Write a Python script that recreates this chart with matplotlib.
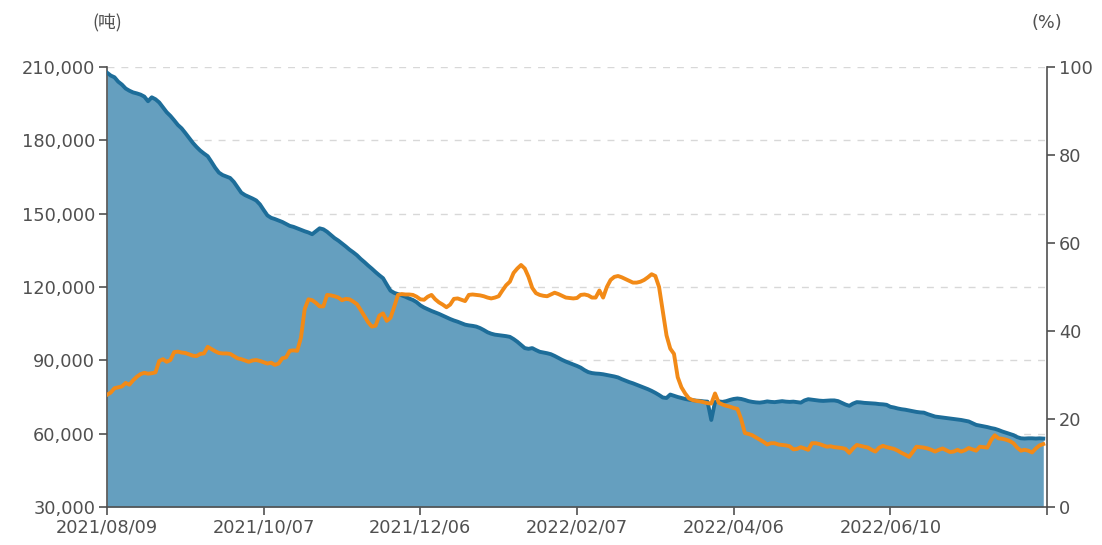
import matplotlib
matplotlib.use("Agg")
import matplotlib.pyplot as plt
import numpy as np

plt.rcParams['font.family'] = ['DejaVu Sans', 'Noto Sans CJK SC']

# 库存(吨), 每个交易日一个点, 单位千吨
stock_k = [
    207.7, 206.5, 205.8, 204.0, 202.8, 201.2, 200.3, 199.6, 199.2, 198.7,
    197.9, 196.0, 197.6, 196.8, 195.5, 193.5, 191.5, 190.0, 188.2, 186.3,
    184.9, 183.0, 181.0, 179.0, 177.3, 175.8, 174.6, 173.5, 171.2, 168.8,
    166.8, 165.8, 165.2, 164.6, 163.0, 160.8, 158.6, 157.6, 156.9, 156.2,
    155.4, 153.8, 151.5, 149.3, 148.3, 147.8, 147.2, 146.6, 145.8, 145.0,
    144.6, 144.0, 143.4, 142.8, 142.3, 141.6, 142.8, 144.0, 143.6, 142.6,
    141.3, 140.0, 139.0, 137.8, 136.6, 135.3, 134.2, 133.0, 131.5, 130.2,
    128.8, 127.5, 126.1, 124.8, 123.6, 121.0, 118.5, 117.6, 117.1, 116.6,
    116.0, 115.3, 114.7, 113.8, 112.5, 111.6, 110.9, 110.2, 109.6, 109.0,
    108.3, 107.6, 106.9, 106.3, 105.8, 105.2, 104.6, 104.3, 104.1, 103.8,
    103.2, 102.4, 101.5, 100.9, 100.5, 100.3, 100.1, 99.9, 99.6, 98.7,
    97.6, 96.3, 95.0, 94.7, 95.0, 94.2, 93.5, 93.2, 92.9, 92.5,
    91.8, 91.0, 90.2, 89.5, 88.9, 88.3, 87.7, 87.0, 86.0, 85.2,
    84.8, 84.6, 84.5, 84.3, 84.0, 83.7, 83.4, 83.0, 82.3, 81.7,
    81.1, 80.6, 80.0, 79.4, 78.8, 78.2, 77.5, 76.7, 75.8, 74.8,
    74.6, 76.0, 75.5, 75.0, 74.6, 74.2, 73.9, 73.7, 73.5, 73.4,
    73.2, 73.1, 65.6, 73.0, 73.2, 73.0, 73.3, 73.8, 74.2, 74.4,
    74.2, 73.8, 73.3, 73.0, 72.8, 72.7, 72.9, 73.2, 73.0, 72.9,
    73.1, 73.3, 73.1, 73.0, 73.1, 72.9, 72.7, 73.6, 74.1, 73.9,
    73.7, 73.5, 73.4, 73.5, 73.6, 73.6, 73.3, 72.6, 71.9, 71.4,
    72.3, 72.9, 72.8, 72.6, 72.5, 72.4, 72.3, 72.1, 72.0, 71.8,
    71.0, 70.7, 70.3, 70.0, 69.8, 69.5, 69.2, 68.9, 68.7, 68.6,
    68.0, 67.5, 67.0, 66.8, 66.6, 66.4, 66.2, 66.0, 65.8, 65.6,
    65.3, 65.0, 64.3, 63.6, 63.3, 63.0, 62.7, 62.3, 62.0, 61.5,
    60.9, 60.4, 59.9, 59.4, 58.6, 58.1, 58.0, 58.1, 58.1, 58.0,
    58.1, 58.0,
]

# 占比(%)
ratio = [
    25.5, 26.0, 27.0, 27.2, 27.4, 28.2, 27.8, 28.8, 29.6, 30.2,
    30.5, 30.3, 30.4, 30.6, 33.2, 33.6, 33.0, 33.4, 35.2, 35.3,
    35.1, 35.0, 34.7, 34.4, 34.3, 34.8, 34.9, 36.4, 35.9, 35.4,
    35.0, 34.9, 34.9, 34.8, 34.3, 33.8, 33.6, 33.3, 33.0, 33.3,
    33.4, 33.2, 32.9, 32.6, 32.8, 32.3, 32.6, 33.8, 34.0, 35.5,
    35.6, 35.5, 38.5, 45.0, 47.2, 47.0, 46.4, 45.6, 45.6, 48.2,
    48.1, 47.9, 47.6, 47.0, 47.3, 47.2, 46.7, 46.1, 44.8, 43.4,
    42.0, 41.0, 41.2, 43.5, 44.0, 42.3, 43.0, 45.5, 48.2, 48.4,
    48.3, 48.3, 48.2, 47.8, 47.2, 47.1, 47.8, 48.2, 47.2, 46.5,
    46.0, 45.4, 46.0, 47.3, 47.4, 47.1, 46.8, 48.2, 48.3, 48.2,
    48.1, 47.9, 47.6, 47.4, 47.6, 47.9, 49.2, 50.4, 51.2, 53.2,
    54.2, 55.0, 54.2, 52.3, 49.8, 48.6, 48.2, 48.0, 47.9, 48.3,
    48.7, 48.4, 48.0, 47.6, 47.5, 47.4, 47.5, 48.2, 48.3, 48.1,
    47.6, 47.6, 49.2, 47.6, 50.0, 51.6, 52.3, 52.5, 52.2, 51.8,
    51.4, 51.0, 51.0, 51.2, 51.6, 52.2, 52.9, 52.5, 50.0, 44.5,
    39.0, 36.0, 34.8, 29.5, 27.2, 25.8, 24.7, 24.3, 24.1, 24.0,
    23.8, 23.6, 23.5, 25.8, 23.7, 23.3, 23.0, 22.8, 22.5, 22.3,
    20.0, 16.8, 16.6, 16.3, 15.8, 15.3, 14.8, 14.2, 14.5, 14.5,
    14.2, 14.1, 14.0, 13.8, 13.1, 13.2, 13.6, 13.3, 13.0, 14.5,
    14.5, 14.3, 14.0, 13.7, 13.8, 13.6, 13.5, 13.4, 13.2, 12.3,
    13.3, 14.1, 13.9, 13.7, 13.5, 13.0, 12.6, 13.5, 13.9, 13.6,
    13.4, 13.2, 12.8, 12.3, 11.9, 11.4, 12.5, 13.7, 13.6, 13.5,
    13.3, 13.0, 12.6, 13.0, 13.3, 12.9, 12.5, 12.6, 13.0, 12.6,
    12.9, 13.4, 13.1, 12.8, 13.7, 13.6, 13.5, 15.2, 16.3, 15.6,
    15.5, 15.3, 15.0, 14.5, 13.5, 12.8, 13.0, 12.8, 12.4, 13.3,
    14.0, 14.3,
]

tick_labels = ['2021/08/09', '2021/10/07', '2021/12/06', '2022/02/07',
               '2022/04/06', '2022/06/10', '']
tick_step = 42

stock = np.array(stock_k) * 1000
x = np.arange(len(stock))

fig = plt.figure(figsize=(11.02, 5.45), dpi=100)
ax = fig.add_axes([107 / 1102, 38 / 545, 940 / 1102, 440 / 545])

axis_c = '#505050'
text_c = '#505050'
fs = 12.8

ax.fill_between(x, stock, 30000, color='#659fbf', lw=0, zorder=2)
ax.plot(x, stock, color='#1d6d99', lw=2.8, zorder=3)

ax.set_xlim(0, tick_step * (len(tick_labels) - 1))
ax.set_ylim(30000, 210000)
ax.set_yticks(np.arange(30000, 210001, 30000))
ax.set_yticklabels([f'{v:,}' for v in range(30000, 210001, 30000)])
ax.set_xticks(np.arange(len(tick_labels)) * tick_step)
ax.set_xticklabels(tick_labels)
ax.grid(axis='y', color='#d8d8d8', ls=(0, (5, 5)), lw=1, zorder=1)
ax.set_axisbelow(True)

ax2 = ax.twinx()
ax2.plot(x, ratio, color='#f28a17', lw=2.8, zorder=4)
ax2.set_ylim(0, 100)
ax2.set_yticks(np.arange(0, 101, 20))

for a in (ax, ax2):
    a.spines['top'].set_visible(False)
    for s in ('left', 'right', 'bottom'):
        a.spines[s].set_color(axis_c)
        a.spines[s].set_linewidth(1.2)
    a.tick_params(colors=axis_c, labelcolor=text_c, labelsize=fs,
                  length=5.5, width=1.2, pad=3)
ax.spines['right'].set_visible(False)
ax2.spines['left'].set_visible(False)
ax2.spines['bottom'].set_visible(False)

fig.text(107 / 1102, 1 - 23 / 545, '(吨)', ha='center', va='center',
         fontsize=fs, color=text_c, family=['Noto Sans CJK SC', 'DejaVu Sans'])
fig.text(1047 / 1102, 1 - 23 / 545, '(%)', ha='center', va='center',
         fontsize=fs, color=text_c)

fig.savefig('out.png', dpi=100)
